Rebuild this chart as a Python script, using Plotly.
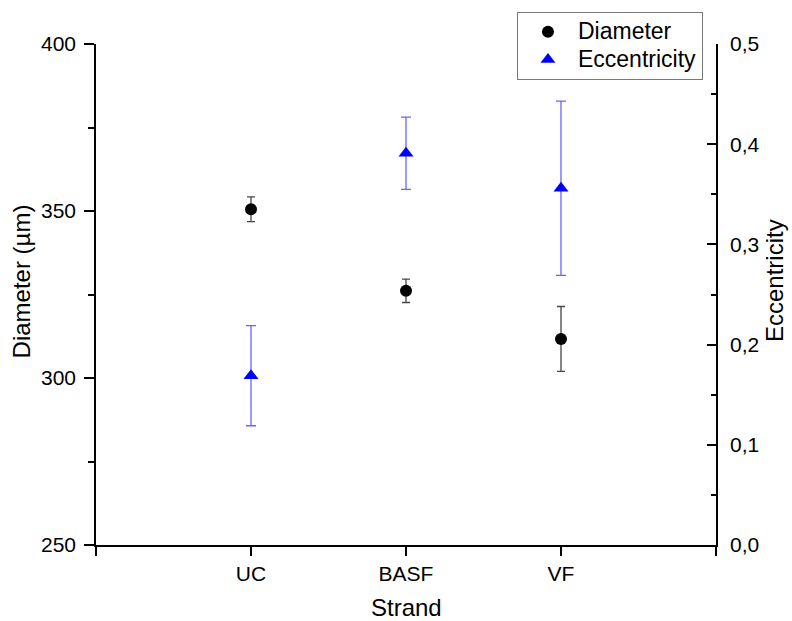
import plotly.graph_objects as go

# Strand types and measured properties
categories = ["UC", "BASF", "VF"]
diameter = [350.5, 326.1, 311.7]          # µm
diameter_err = [3.7, 3.5, 9.7]
eccentricity = [0.169, 0.391, 0.356]
eccentricity_err = [0.050, 0.036, 0.087]

# categories sit at 1..3 on a 0..4 axis, leaving a full slot of padding on each side
x_pos = [i + 1 for i in range(len(categories))]
x_ticks = [0] + x_pos + [len(categories) + 1]
x_ticktext = [""] + categories + [""]

FONT = "Liberation Sans, Arial, sans-serif"


def legend_label(text):
    # larger glyphs than the legend's base font, keeping the rows compact
    return f'<span style="font-size:23px">{text}</span>'


fig = go.Figure()

fig.add_trace(go.Scatter(
    x=x_pos, y=diameter, mode="markers", name=legend_label("Diameter"),
    marker=dict(symbol="circle", size=12, color="black", line=dict(width=0)),
    error_y=dict(type="data", array=diameter_err, visible=True,
                 color="rgb(70,70,70)", thickness=1.3, width=4),
    yaxis="y",
))

fig.add_trace(go.Scatter(
    x=x_pos, y=eccentricity, mode="markers", name=legend_label("Eccentricity"),
    marker=dict(symbol="triangle-up", size=13, color="#0000ff", line=dict(width=0)),
    error_y=dict(type="data", array=eccentricity_err, visible=True,
                 color="rgb(100,100,255)", thickness=1.3, width=5),
    yaxis="y2",
))

axis_font = dict(family=FONT, size=21, color="black")

fig.update_layout(
    width=792, height=621,
    margin=dict(l=96, r=76, t=44, b=76, pad=0),
    paper_bgcolor="white", plot_bgcolor="white",
    separators=",.",
    showlegend=True,
    font=dict(family=FONT, color="black"),
    xaxis=dict(
        range=[0, len(categories) + 1],
        tickmode="array", tickvals=x_ticks, ticktext=x_ticktext,
        ticks="outside", ticklen=9, tickwidth=1.5, tickcolor="black",
        showline=True, linewidth=1.6, linecolor="black",
        showgrid=False, zeroline=False,
        tickfont=axis_font,
    ),
    yaxis=dict(
        range=[250, 400], tickmode="linear", tick0=250, dtick=50,
        ticks="outside", ticklen=10, tickwidth=1.5, tickcolor="black",
        minor=dict(ticks="outside", dtick=25, ticklen=6, tickwidth=1.5, tickcolor="black"),
        showline=True, linewidth=1.6, linecolor="black",
        showgrid=False, zeroline=False,
        tickfont=axis_font, ticklabelstandoff=4,
    ),
    yaxis2=dict(
        range=[0, 0.5], overlaying="y", side="right",
        tickmode="linear", tick0=0, dtick=0.1, tickformat=".1f",
        ticks="inside", ticklen=9, tickwidth=1.5, tickcolor="black",
        minor=dict(ticks="inside", dtick=0.05, ticklen=5, tickwidth=1.5, tickcolor="black"),
        showline=True, linewidth=1.6, linecolor="black",
        showgrid=False, zeroline=False,
        tickfont=axis_font, ticklabelstandoff=8,
    ),
    legend=dict(
        x=0.679, y=1.064, xanchor="left", yanchor="top",
        bgcolor="white", bordercolor="rgb(120,120,120)", borderwidth=1,
        font=dict(family=FONT, size=19, color="black"),
        itemwidth=50, tracegroupgap=0,
    ),
)

# axis titles
fig.add_annotation(text="Diameter (µm)", xref="paper", yref="paper",
                   x=-0.1202, y=0.527, xanchor="center", yanchor="middle",
                   textangle=-90, showarrow=False,
                   font=dict(family=FONT, size=24, color="black"))
fig.add_annotation(text="Eccentricity", xref="paper", yref="paper",
                   x=1.0952, y=0.527, xanchor="center", yanchor="middle",
                   textangle=-90, showarrow=False,
                   font=dict(family=FONT, size=24, color="black"))
fig.add_annotation(text="Strand", xref="paper", yref="paper",
                   x=0.5, y=-0.124, xanchor="center", yanchor="middle",
                   showarrow=False,
                   font=dict(family=FONT, size=24, color="black"))

fig.write_html("out.html")
